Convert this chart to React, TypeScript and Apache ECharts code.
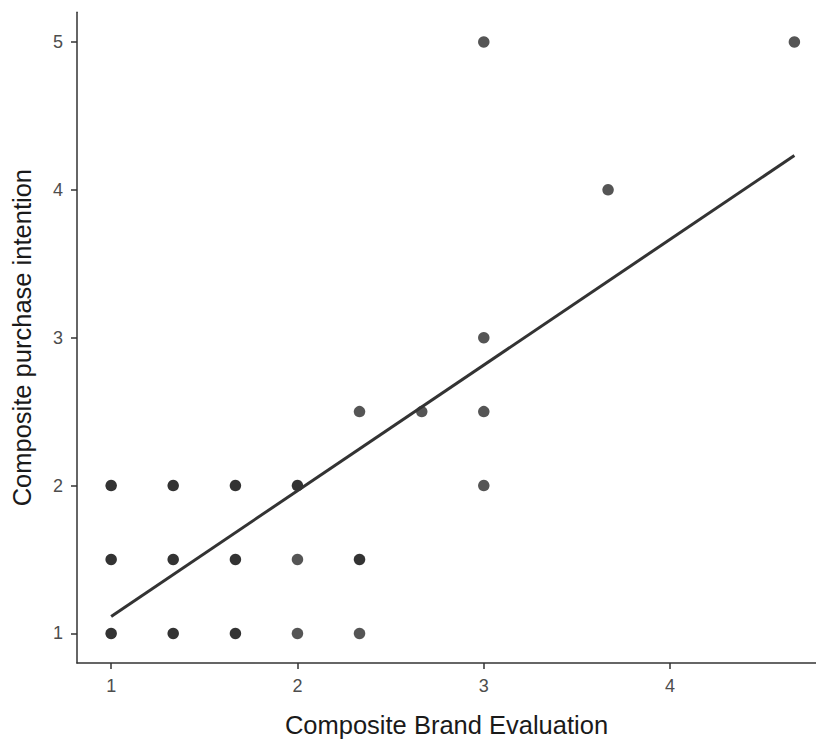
import React, { useEffect, useRef } from "react";
import * as echarts from "echarts";

// Observations (brand evaluation, purchase intention) and how many respondents share each point
const brandEval = [1, 1, 1, 1.333, 1.333, 1.333, 1.667, 1.667, 1.667, 2, 2, 2, 2.333, 2.333, 2.333, 2.667, 3, 3, 3, 3, 3.667, 4.667];
const purchaseIntent = [1, 1.5, 2, 1, 1.5, 2, 1, 1.5, 2, 1, 1.5, 2, 1, 1.5, 2.5, 2.5, 2, 2.5, 3, 5, 4, 5];
const overlapCount = [3, 3, 3, 2, 2, 2, 2, 2, 2, 1, 1, 2, 1, 2, 1, 1, 1, 1, 1, 1, 1, 1];

// Linear fit: purchase = intercept + slope * brand
const fitIntercept = 0.265;
const fitSlope = 0.85;

const xTicks = [1, 2, 3, 4];
const yTicks = [1, 2, 3, 4, 5];

const FONT = "'Liberation Sans', Arial, Helvetica, sans-serif";

export default function App() {
  const ref = useRef<HTMLDivElement>(null);
  useEffect(() => {
    if (!ref.current) return;
    const chart = echarts.init(ref.current, null, { renderer: "svg" });
    const xMinData = Math.min(...brandEval);
    const xMaxData = Math.max(...brandEval);
    const points = brandEval.map((x, i) => ({
      value: [x, purchaseIntent[i]],
      itemStyle: { color: overlapCount[i] > 1 ? "#333333" : "#555555", opacity: 1 },
    }));
    const fitLine = [xMinData, xMaxData].map((x) => [x, fitIntercept + fitSlope * x]);
    chart.setOption({
      animation: false,
      backgroundColor: "#ffffff",
      textStyle: { fontFamily: FONT },
      grid: { left: 77, right: 0, top: 12.35, bottom: 78.35, containLabel: false },
      xAxis: {
        type: "value",
        min: 0.8167,
        max: 4.783,
        name: "Composite Brand Evaluation",
        nameLocation: "middle",
        nameGap: 49,
        nameTextStyle: { fontSize: 25.5, color: "#1a1a1a", fontFamily: FONT },
        axisLine: { show: true, onZero: false, lineStyle: { color: "#333333", width: 1.5 } },
        axisTick: { show: true, length: 6, customValues: xTicks, lineStyle: { color: "#333333", width: 1.5 } },
        axisLabel: { customValues: xTicks, margin: 14, fontSize: 18, color: "#4d4d4d", fontFamily: FONT },
        splitLine: { show: false },
      },
      yAxis: {
        type: "value",
        min: 0.8,
        max: 5.2,
        name: "Composite purchase intention",
        nameLocation: "middle",
        nameGap: 42,
        nameTextStyle: { fontSize: 25.5, color: "#1a1a1a", fontFamily: FONT },
        axisLine: { show: true, onZero: false, lineStyle: { color: "#333333", width: 1.5 } },
        axisTick: { show: true, length: 6, customValues: yTicks, lineStyle: { color: "#333333", width: 1.5 } },
        axisLabel: { customValues: yTicks, margin: 14, fontSize: 18, color: "#4d4d4d", fontFamily: FONT },
        splitLine: { show: false },
      },
      series: [
        {
          type: "scatter",
          symbol: "circle",
          symbolSize: 11.5,
          data: points,
          z: 2,
        },
        {
          type: "line",
          data: fitLine,
          showSymbol: false,
          symbol: "none",
          lineStyle: { color: "#333333", width: 3 },
          z: 3,
        },
      ],
    });
    return () => chart.dispose();
  }, []);
  return (
    <div
      ref={ref}
      style={{ position: "absolute", left: 0, top: 0, width: 816, height: 743, background: "#fff" }}
    />
  );
}
